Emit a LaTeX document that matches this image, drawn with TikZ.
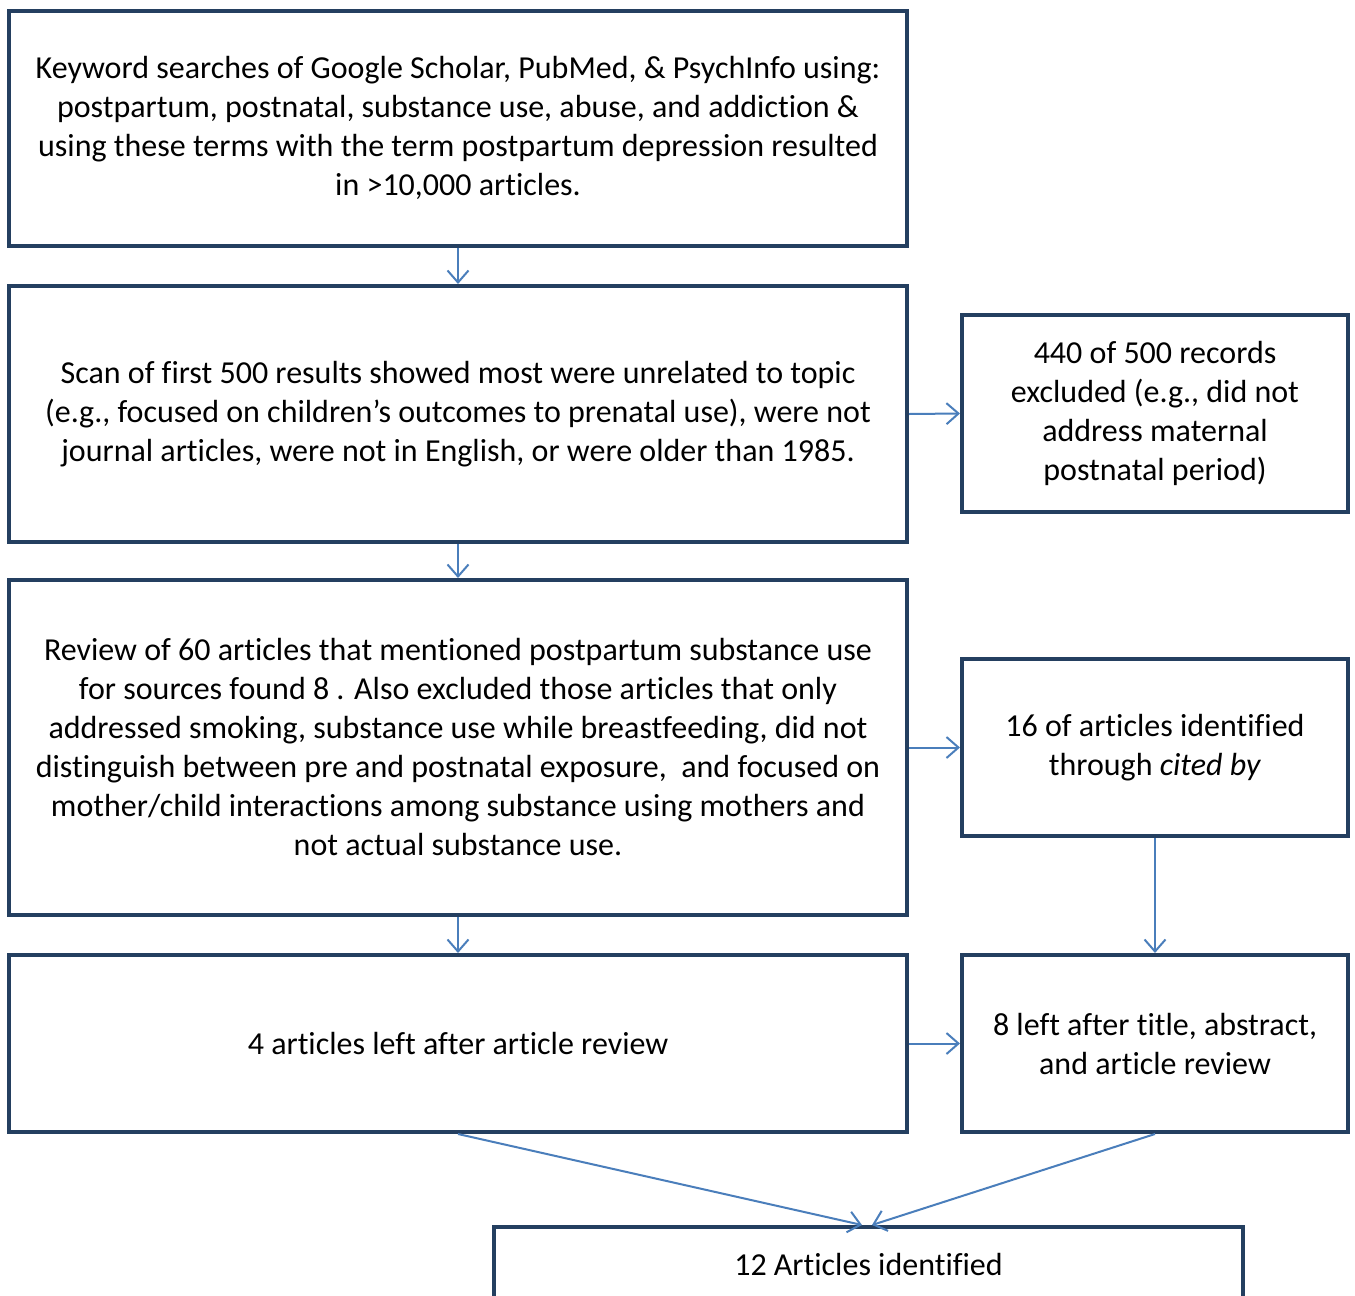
\documentclass[tikz,border=0pt]{standalone}
\usepackage{fontspec}
\setmainfont[Ligatures=NoCommon]{Carlito}
\usetikzlibrary{arrows.meta}
\definecolor{boxc}{RGB}{36,63,96}
\definecolor{arrc}{RGB}{74,126,187}
\begin{document}
\begin{tikzpicture}[x=1pt,y=-1pt,
  box/.style={draw=boxc,line width=4pt,inner sep=0pt,align=center,
    font=\fontsize{32}{39}\selectfont},
  conn/.style={draw=arrc,line width=2pt,-{Straight Barb[length=12pt,width=21pt,line width=2pt]}}]
\useasboundingbox (0,0) rectangle (1355,1296);
\clip (0,0) rectangle (1355,1296);
\fill[white] (0,0) rectangle (1355,1296);
\node[box,minimum width=898pt,minimum height=235pt] (b1) at (458,128)
 {Keyword searches of Google Scholar, PubMed, \& PsychInfo using:\\
  postpartum, postnatal, substance use, abuse, and addiction \&\\
  using these terms with the term postpartum depression resulted\\
  in >10,000 articles.};
\node[box,minimum width=898pt,minimum height=256pt] (b2) at (458,414)
 {Scan of first 500 results showed most were unrelated to topic\\
  (e.g., focused on children’s outcomes to prenatal use), were not\\
  journal articles, were not in English, or were older than 1985.};
\node[box,minimum width=898pt,minimum height=335pt] (b3) at (458,747.5)
 {Review of 60 articles that mentioned postpartum substance use\\
  for sources found 8 . Also excluded those articles that only\\
  addressed smoking, substance use while breastfeeding, did not\\
  distinguish between pre and postnatal exposure,\ \ and focused on\\
  mother/child interactions among substance using mothers and\\
  not actual substance use.};
\node[box,minimum width=898pt,minimum height=177pt] (b4) at (458,1043.5)
 {4 articles left after article review};
\node[box,minimum width=386pt,minimum height=197pt] (ra) at (1155,413.5)
 {440 of 500 records\\ excluded (e.g., did not\\ address maternal\\ postnatal period)};
\node[box,minimum width=386pt,minimum height=177pt] (rb) at (1155,747.5)
 {16 of articles identified\\ through \textit{cited by}};
\node[box,minimum width=386pt,minimum height=177pt] (rc) at (1155,1043.5)
 {8 left after title, abstract,\\ and article review};
\node[box,minimum width=749pt,minimum height=74pt] (bot) at (868.5,1264)
 {12 Articles identified};
\coordinate (tl) at (862,1225);
\coordinate (tr) at (872,1225);
\draw[conn] (b1.south) -- (b2.north);
\draw[conn] (b2.south) -- (b3.north);
\draw[conn] (b3.south) -- (b4.north);
\draw[conn] (b2.east) -- (ra.west);
\draw[conn] (b3.east) -- (rb.west);
\draw[conn] (rb.south) -- (rc.north);
\draw[conn] (b4.east) -- (rc.west);
\draw[conn] (b4.south) -- (tl);
\draw[conn] (rc.south) -- (tr);
\end{tikzpicture}
\end{document}
